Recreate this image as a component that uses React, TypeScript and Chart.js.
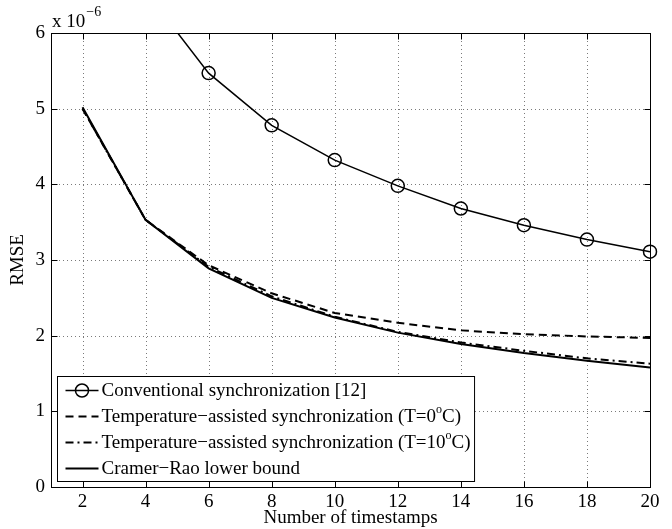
import { useEffect, useRef } from 'react';
import { Chart, registerables } from 'chart.js';

Chart.register(...registerables);

// ---- data (RMSE in units of 10^-6) ----
const timestamps = [2, 4, 6, 8, 10, 12, 14, 16, 18, 20];
const conventional = [9.45, 6.55, 5.47, 4.78, 4.32, 3.98, 3.68, 3.46, 3.27, 3.11];
const tempAssisted0 = [5.0, 3.53, 2.93, 2.56, 2.3, 2.17, 2.07, 2.02, 1.99, 1.97];
const tempAssisted10 = [5.0, 3.53, 2.91, 2.52, 2.25, 2.05, 1.91, 1.8, 1.7, 1.63];
const crlb = [5.02, 3.53, 2.89, 2.5, 2.24, 2.04, 1.89, 1.77, 1.67, 1.58];

const xTicks = [2, 4, 6, 8, 10, 12, 14, 16, 18, 20];
const yTicks = [0, 1, 2, 3, 4, 5, 6];

const seriesLabels = [
  'Conventional synchronization [12]',
  'Temperature\u2212assisted synchronization (T=0^oC)',
  'Temperature\u2212assisted synchronization (T=10^oC)',
  'Cramer\u2212Rao lower bound',
];

const FONT = '"Liberation Serif", "Times New Roman", serif';
const FS = 19;

function drawRich(ctx: CanvasRenderingContext2D, text: string, x: number, y: number, size: number) {
  // supports "^c" superscript of one character
  let cx = x;
  let i = 0;
  while (i < text.length) {
    if (text[i] === '^') {
      const ch = text[i + 1];
      ctx.font = `${Math.round(size * 0.65)}px ${FONT}`;
      ctx.fillText(ch, cx, y - size * 0.38);
      cx += ctx.measureText(ch).width;
      i += 2;
    } else {
      let j = i;
      while (j < text.length && text[j] !== '^') j++;
      const seg = text.slice(i, j);
      ctx.font = `${size}px ${FONT}`;
      ctx.fillText(seg, cx, y);
      cx += ctx.measureText(seg).width;
      i = j;
    }
  }
  return cx - x;
}

function richWidth(ctx: CanvasRenderingContext2D, text: string, size: number) {
  let w = 0;
  let i = 0;
  while (i < text.length) {
    if (text[i] === '^') {
      ctx.font = `${Math.round(size * 0.65)}px ${FONT}`;
      w += ctx.measureText(text[i + 1]).width;
      i += 2;
    } else {
      let j = i;
      while (j < text.length && text[j] !== '^') j++;
      ctx.font = `${size}px ${FONT}`;
      w += ctx.measureText(text.slice(i, j)).width;
      i = j;
    }
  }
  return w;
}

const framePlugin = {
  id: 'matlabFrame',
  beforeDatasetsDraw(chart: any) {
    const { ctx, chartArea: a, scales } = chart;
    const x = scales.x;
    const y = scales.y;
    ctx.save();
    ctx.strokeStyle = '#7a7a7a';
    ctx.lineWidth = 1;
    ctx.setLineDash([1, 3]);
    for (const v of xTicks) {
      if (v <= x.min || v >= x.max) continue;
      const px = Math.round(x.getPixelForValue(v)) + 0.5;
      ctx.beginPath();
      ctx.moveTo(px, a.top);
      ctx.lineTo(px, a.bottom);
      ctx.stroke();
    }
    for (const v of yTicks) {
      if (v <= y.min || v >= y.max) continue;
      const py = Math.round(y.getPixelForValue(v)) + 0.5;
      ctx.beginPath();
      ctx.moveTo(a.left, py);
      ctx.lineTo(a.right, py);
      ctx.stroke();
    }
    ctx.restore();
  },
  afterDraw(chart: any) {
    const { ctx, chartArea: a, scales } = chart;
    const x = scales.x;
    const y = scales.y;
    const L = Math.round(a.left) + 0.5;
    const R = Math.round(a.right) + 0.5;
    const T = Math.round(a.top) + 0.5;
    const B = Math.round(a.bottom) + 0.5;
    ctx.save();
    ctx.setLineDash([]);
    ctx.strokeStyle = '#000';
    ctx.lineWidth = 1;
    ctx.strokeRect(L, T, R - L, B - T);
    const tl = 6;
    ctx.beginPath();
    for (const v of xTicks) {
      const px = Math.round(x.getPixelForValue(v)) + 0.5;
      ctx.moveTo(px, B);
      ctx.lineTo(px, B - tl);
      ctx.moveTo(px, T);
      ctx.lineTo(px, T + tl);
    }
    for (const v of yTicks) {
      const py = Math.round(y.getPixelForValue(v)) + 0.5;
      ctx.moveTo(L, py);
      ctx.lineTo(L + tl, py);
      ctx.moveTo(R, py);
      ctx.lineTo(R - tl, py);
    }
    ctx.stroke();

    // exponent label
    ctx.fillStyle = '#000';
    ctx.textBaseline = 'alphabetic';
    ctx.textAlign = 'left';
    ctx.font = `${FS}px ${FONT}`;
    ctx.fillText('x 10', a.left + 1, a.top - 6);
    const w = ctx.measureText('x 10').width;
    ctx.font = `${Math.round(FS * 0.72)}px ${FONT}`;
    ctx.fillText('\u22126', a.left + 1 + w + 1, a.top - 17);

    // legend
    const ds = chart.data.datasets;
    let maxW = 0;
    for (const d of ds) maxW = Math.max(maxW, richWidth(ctx, d.label, FS));
    const lx = Math.round(a.left) + 6.5;
    const rowH = 26;
    const lh = rowH * ds.length + 1;
    const lb = Math.round(a.bottom) - 6 + 0.5;
    const lt = lb - lh;
    const sampleX0 = lx + 8;
    const sampleX1 = lx + 41;
    const textX = lx + 44;
    const lw = textX - lx + maxW + 4;
    ctx.fillStyle = '#fff';
    ctx.fillRect(lx, lt, lw, lh);
    ctx.strokeStyle = '#000';
    ctx.lineWidth = 1;
    ctx.setLineDash([]);
    ctx.strokeRect(lx, lt, lw, lh);
    ds.forEach((d: any, i: number) => {
      const cy = lt + 14 + i * rowH;
      ctx.save();
      ctx.strokeStyle = d.borderColor;
      ctx.lineWidth = d.borderWidth;
      ctx.setLineDash(d.borderDash || []);
      ctx.beginPath();
      ctx.moveTo(sampleX0, cy);
      ctx.lineTo(sampleX1, cy);
      ctx.stroke();
      if (d.pointRadius > 0) {
        ctx.setLineDash([]);
        ctx.lineWidth = d.pointBorderWidth;
        ctx.beginPath();
        ctx.arc((sampleX0 + sampleX1) / 2, cy, d.pointRadius, 0, Math.PI * 2);
        ctx.stroke();
      }
      ctx.restore();
      ctx.fillStyle = '#000';
      ctx.textBaseline = 'middle';
      drawRich(ctx, d.label, textX, cy + 1, FS);
    });
    ctx.restore();
  },
};

function toPoints(vals: number[]) {
  return timestamps.map((t, i) => ({ x: t, y: vals[i] }));
}

export default function App() {
  const ref = useRef<HTMLCanvasElement>(null);
  useEffect(() => {
    const canvas = ref.current!;
    const chart = new Chart(canvas, {
      type: 'line',
      data: {
        datasets: [
          {
            label: seriesLabels[0],
            data: toPoints(conventional),
            borderColor: '#000',
            backgroundColor: '#000',
            borderWidth: 1.5,
            pointStyle: 'circle',
            pointRadius: 6.5,
            pointBorderWidth: 1.5,
            pointBackgroundColor: 'rgba(0,0,0,0)',
            pointBorderColor: '#000',
            tension: 0,
            order: 3,
            clip: { left: 10, right: 10, top: 0, bottom: 10 },
          } as any,
          {
            label: seriesLabels[1],
            data: toPoints(tempAssisted0),
            borderColor: '#000',
            borderWidth: 2,
            borderDash: [8, 5],
            pointRadius: 0,
            tension: 0,
            order: 2,
          },
          {
            label: seriesLabels[2],
            data: toPoints(tempAssisted10),
            borderColor: '#000',
            borderWidth: 2,
            borderDash: [8, 4, 2, 4],
            pointRadius: 0,
            tension: 0,
            order: 1,
          },
          {
            label: seriesLabels[3],
            data: toPoints(crlb),
            borderColor: '#000',
            borderWidth: 2,
            pointRadius: 0,
            tension: 0,
            order: 0,
          },
        ],
      },
      options: {
        responsive: false,
        animation: false,
        devicePixelRatio: 1,
        layout: { padding: { top: 33, right: 22, left: 0, bottom: 0 } },
        plugins: { legend: { display: false }, tooltip: { enabled: false } },
        scales: {
          x: {
            type: 'linear',
            min: 1,
            max: 20,
            afterBuildTicks: (s: any) => {
              s.ticks = xTicks.map((v) => ({ value: v }));
            },
            afterFit: (s: any) => {
              s.height = 42;
            },
            grid: { display: false, drawTicks: false },
            border: { display: false },
            ticks: {
              color: '#000',
              font: { family: FONT, size: FS },
              padding: 4,
              maxRotation: 0,
              autoSkip: false,
            },
            title: {
              display: true,
              text: 'Number of timestamps',
              color: '#000',
              font: { family: FONT, size: FS },
              padding: { top: 0, bottom: 0 },
            },
          },
          y: {
            type: 'linear',
            min: 0,
            max: 6,
            afterBuildTicks: (s: any) => {
              s.ticks = yTicks.map((v) => ({ value: v }));
            },
            afterFit: (s: any) => {
              s.width = 51;
            },
            grid: { display: false, drawTicks: false },
            border: { display: false },
            ticks: {
              color: '#000',
              font: { family: FONT, size: FS },
              padding: 6,
              autoSkip: false,
            },
            title: {
              display: true,
              text: 'RMSE',
              color: '#000',
              font: { family: FONT, size: FS },
              padding: { top: 7, bottom: 0 },
            },
          },
        },
      },
      plugins: [framePlugin],
    });
    return () => chart.destroy();
  }, []);
  return (
    <div style={{ position: 'absolute', left: 0, top: 0, width: 672, height: 529, background: '#fff' }}>
      <canvas ref={ref} width={672} height={529} style={{ display: 'block' }} />
    </div>
  );
}
